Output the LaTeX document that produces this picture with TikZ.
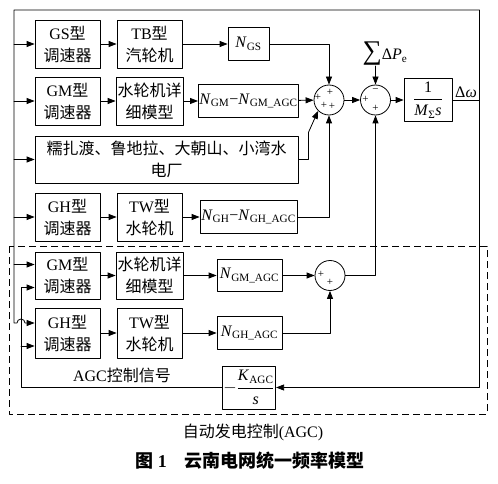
\documentclass[tikz,border=0pt]{standalone}
\usepackage{fontspec}
\usepackage{amsmath}
\usepackage{tikz}
\usetikzlibrary{arrows.meta}
\usetikzlibrary{calc}
\setmainfont{Liberation Serif}
\newfontfamily\cjk{Noto Sans CJK SC}
\newcommand{\zh}[1]{{\cjk #1}}

\begin{document}
\begin{tikzpicture}[x=1pt, y=-1pt, line cap=round, line join=round, line width=0.8pt,
    every node/.style={font=\fontsize{16}{22}\selectfont},
    blk/.style={draw, align=center, inner sep=0pt, minimum width=65pt, minimum height=48pt},
    gain/.style={draw, align=center, inner sep=1pt, minimum height=33pt},
    sumnode/.style={draw, circle, inner sep=0pt, minimum size=30pt},
    sgn/.style={font=\fontsize{11}{11}\selectfont, inner sep=0pt},
    arr/.style={-{Triangle[length=8pt, width=6pt]}}]
    \useasboundingbox (0,0) rectangle (498,484);

    % AGC frame
    \draw[dash pattern=on 7pt off 4pt, line cap=butt] (9,246) rectangle (487,414);
    \node (agc) at (253,432) {\zh{自动发电控制}(AGC)};

    % GS units
    \node[blk] (gs) at (67.5,44) {GS\zh{型}\\\zh{调速器}};
    \node[blk] (tb) at (149.5,44) {TB\zh{型}\\\zh{汽轮机}};
    \node[gain, minimum width=41pt] (ngs) at (248.5,44) {\textit{N}\textsubscript{GS}};

    % GM units
    \node[blk] (gma) at (67.5,101) {GM\zh{型}\\\zh{调速器}};
    \node[blk, minimum width=67pt] (sma) at (149.5,101) {\zh{水轮机详}\\\zh{细模型}};
    \node[gain, minimum width=97pt] (ngm) at (248.5,101) {\textit{N}\textsubscript{GM}−\textit{N}\textsubscript{GM\_AGC}};

    % large plants
    \node[blk, minimum width=263pt, minimum height=47pt] (plant) at (166.5,159.5) {\zh{糯扎渡、鲁地拉、大朝山、小湾水}\\\zh{电厂}};

    % GH units
    \node[blk] (gh) at (67.5,217) {GH\zh{型}\\\zh{调速器}};
    \node[blk] (tw) at (149.5,217) {TW\zh{型}\\\zh{水轮机}};
    \node[gain, minimum width=97pt] (ngh) at (248.5,217) {\textit{N}\textsubscript{GH}−\textit{N}\textsubscript{GH\_AGC}};

    % AGC units
    \node[blk, minimum height=47pt] (gmb) at (67.5,275.5) {GM\zh{型}\\\zh{调速器}};
    \node[blk, minimum width=67pt, minimum height=47pt] (smb) at (149.5,275.5) {\zh{水轮机详}\\\zh{细模型}};
    \node[gain, minimum width=65pt, minimum height=32pt] (ngma) at (249.5,275.5) {\textit{N}\textsubscript{GM\_AGC}};
    \node[blk, minimum height=50pt] (ghb) at (67.5,333) {GH\zh{型}\\\zh{调速器}};
    \node[blk, minimum height=50pt] (twb) at (149.5,333) {TW\zh{型}\\\zh{水轮机}};
    \node[gain, minimum width=65pt] (ngha) at (249.5,333) {\textit{N}\textsubscript{GH\_AGC}};

    % summing points
    \node[sumnode] (s1) at (329,100) {};
    \node[sgn] at ($(s1)+(-11,-3)$) {+};
    \node[sgn] at ($(s1)+(1,-8)$) {+};
    \node[sgn] at ($(s1)+(-5,5)$) {+};
    \node[sgn] at ($(s1)+(3,6)$) {+};
    \node[sumnode] (s2) at (375.5,100) {};
    \node[sgn] at ($(s2)+(0,-9)$) {−};
    \node[sgn] at ($(s2)+(-10,-1)$) {+};
    \node[sgn] at ($(s2)+(0,8)$) {+};
    \node[sumnode] (s3) at (330,275.5) {};
    \node[sgn] at ($(s3)+(-9,-1)$) {+};
    \node[sgn] at ($(s3)+(0,7)$) {+};
    \node (dpe) at (385,54) {{\fontsize{27}{27}\selectfont ∑}Δ\textit{P}\textsubscript{e}};
    \coordinate (dpein) at (375.5,66);

    % inertia and AGC gain
    \node[gain, minimum width=48pt, minimum height=43pt] (ms) at (428,100) {$\dfrac{\text{1}}{\text{\textit{M}\textsubscript{Σ}\textit{s}}}$};
    \node (dw) at (466,92) {Δ\textit{ω}};
    \node[gain, minimum width=52pt, minimum height=43pt] (kagc) at (249,387.5) {$-\dfrac{\text{\textit{K}\textsubscript{AGC}}}{\text{\textit{s}}}$};
    \node (sig) at (122,375) {AGC\zh{控制信号}};

    % bus lines
    \coordinate (bus) at (14,10);
    \coordinate (rbus) at (479,10);
    \coordinate (fb) at (21,387.5);
    \coordinate (gmbin) at ([yshift=11pt]gmb.west);
    \coordinate (gmbfb) at ([yshift=-12pt]gmb.west);
    \coordinate (ghbin) at ([yshift=10pt]ghb.west);
    \coordinate (ghbfb) at ([yshift=-13pt]ghb.west);
    \coordinate (hop) at (fb |- ghbin);

    % frequency feedback
    \draw (ms) -- (rbus |- ms);
    \draw[arr] (rbus) -- (rbus |- kagc) -- (kagc);
    \draw[arr] (rbus) -- (bus) -- (bus |- ghbin) -- ([xshift=-4pt]hop) arc[start angle=180, end angle=0, radius=4pt] -- (ghbin);
    \draw[arr] (bus |- gs) -- (gs);
    \draw[arr] (bus |- gma) -- (gma);
    \draw[arr] (bus |- plant) -- (plant);
    \draw[arr] (bus |- gh) -- (gh);
    \draw[arr] (bus |- gmbin) -- (gmbin);

    % AGC signal
    \draw[arr] (kagc) -- (fb) -- (fb |- gmbfb) -- (gmbfb);
    \draw[arr] (fb |- ghbfb) -- (ghbfb);

    % unit chains
    \draw[arr] (gs) -- (tb);
    \draw[arr] (tb) -- (ngs);
    \draw[arr] (gma) -- (sma);
    \draw[arr] (sma) -- (ngm);
    \draw[arr] (gh) -- (tw);
    \draw[arr] (tw) -- (ngh);
    \draw[arr] (gmb) -- (smb);
    \draw[arr] (smb) -- (ngma);
    \draw[arr] (ghb) -- (twb);
    \draw[arr] (twb) -- (ngha);

    % sums
    \draw[arr] (ngs) -- (s1 |- ngs) -- (s1);
    \draw[arr] (ngm) -- (s1);
    \draw[arr] (plant.east) -- ++(10,0) -- ++(0,-27) -- (s1.225);
    \draw[arr] (ngh) -- (s1 |- ngh) -- (s1);
    \draw[arr] (s1) -- (s2);
    \draw[arr] (dpein) -- (s2);
    \draw[arr] (s2) -- (ms);
    \draw[arr] (ngma) -- (s3);
    \draw[arr] (ngha) -- (s3 |- ngha) -- (s3);
    \draw[arr] (s3) -- (s2 |- s3) -- (s2);

    % caption
    \node (cap) at (250,461) {\fontsize{18}{18}\selectfont\bfseries\zh{图} 1\quad\zh{云南电网统一频率模型}};
\end{tikzpicture}
\end{document}
